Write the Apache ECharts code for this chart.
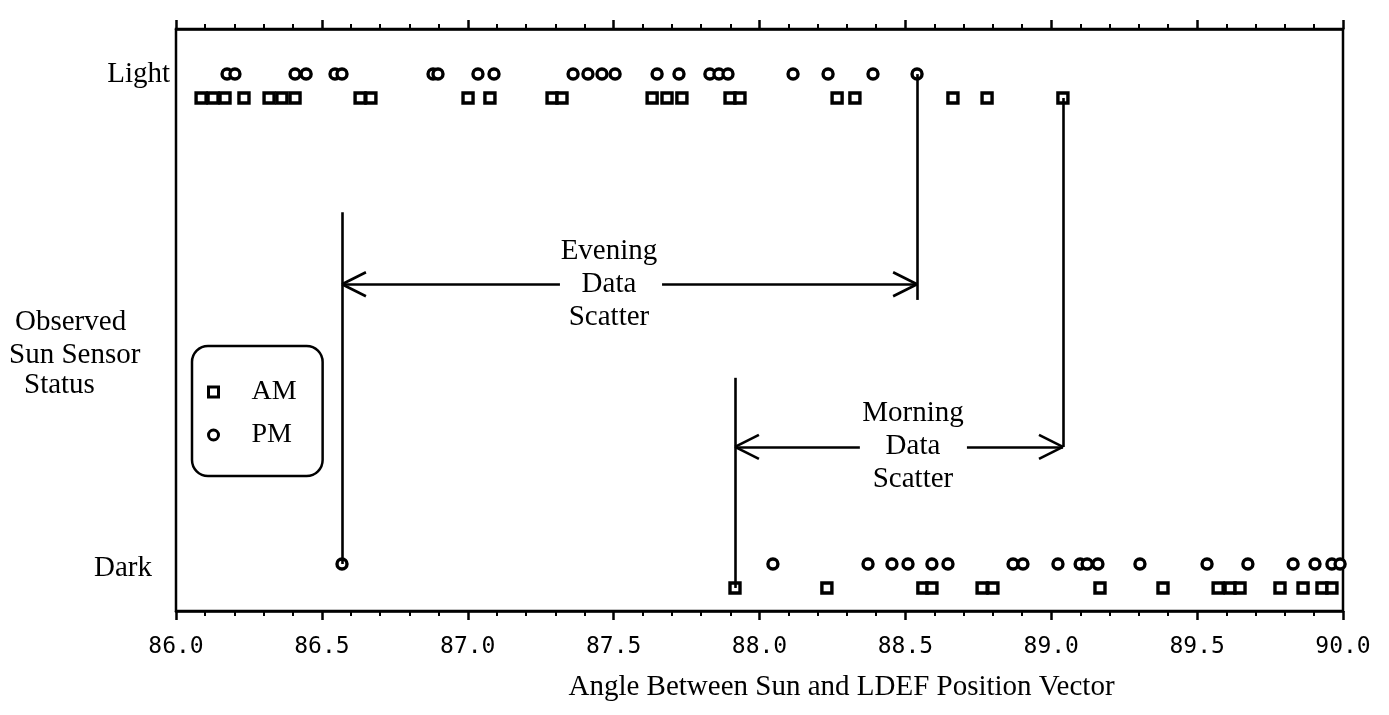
<!DOCTYPE html>
<html>
<head>
<meta charset="utf-8">
<script src="https://cdn.jsdelivr.net/npm/echarts@6/dist/echarts.min.js"></script>
<style>
  html, body { margin: 0; padding: 0; background: #fff; }
  #chart { width: 1389px; height: 715px; }
</style>
</head>
<body>
<div id="chart"></div>
<script>
// ---- data (angle between Sun and LDEF position vector, degrees) ----
const lightAM = [86.086, 86.127, 86.168, 86.233, 86.319, 86.363, 86.408, 86.631, 86.668, 87.001, 87.076, 87.289, 87.323, 87.632, 87.683, 87.734, 87.899, 87.933, 88.266, 88.327, 88.663, 88.780, 89.040];
const lightPM = [86.175, 86.202, 86.408, 86.446, 86.545, 86.569, 86.881, 86.898, 87.035, 87.090, 87.361, 87.412, 87.460, 87.505, 87.649, 87.724, 87.830, 87.861, 87.892, 88.115, 88.235, 88.389, 88.540];
const darkAM = [87.916, 88.231, 88.560, 88.591, 88.763, 88.800, 89.167, 89.383, 89.572, 89.613, 89.647, 89.784, 89.863, 89.928, 89.962];
const darkPM = [86.569, 88.046, 88.372, 88.454, 88.509, 88.591, 88.646, 88.869, 88.903, 89.023, 89.099, 89.123, 89.160, 89.304, 89.534, 89.674, 89.829, 89.904, 89.962, 89.990];
const statusLevels = { Light: 1, Dark: 0 };
const xTickLabels = ['86.0', '86.5', '87.0', '87.5', '88.0', '88.5', '89.0', '89.5', '90.0'];

const SERIF = '"Liberation Serif", "Times New Roman", serif';
const chart = echarts.init(document.getElementById('chart'), null, { renderer: 'canvas' });

// annotation geometry (scatter range brackets)
const eveL = darkPM[0], eveR = lightPM[lightPM.length - 1];
const morL = darkAM[0], morR = lightAM[lightAM.length - 1];
const eveY = 0.571, morY = 0.239;
const ax = 0.082, ay = 0.0245; // arrowhead arm extents in data units
function seg(x1, y1, x2, y2) { return [{ coord: [x1, y1] }, { coord: [x2, y2] }]; }
const annoLines = [
  seg(eveL, 0, eveL, 0.718),
  seg(eveR, 1, eveR, 0.539),
  seg(eveL, eveY, 87.316, eveY),
  seg(87.666, eveY, eveR, eveY),
  seg(eveL, eveY, eveL + ax, eveY + ay),
  seg(eveL, eveY, eveL + ax, eveY - ay),
  seg(eveR, eveY, eveR - ax, eveY + ay),
  seg(eveR, eveY, eveR - ax, eveY - ay),
  seg(morL, -0.049, morL, 0.380),
  seg(morR, 0.951, morR, morY),
  seg(morL, morY, 88.344, morY),
  seg(88.711, morY, morR, morY),
  seg(morL, morY, morL + ax, morY + ay),
  seg(morL, morY, morL + ax, morY - ay),
  seg(morR, morY, morR - ax, morY + ay),
  seg(morR, morY, morR - ax, morY - ay)
];

const markerStyle = { color: '#fff', borderColor: '#000', borderWidth: 3.4, opacity: 1 };

const xCommon = {
  type: 'value', min: 86, max: 90, interval: 0.5,
  axisLine: { show: true, onZero: false, lineStyle: { color: '#000', width: 2.5 } },
  axisTick: { show: true, inside: false, length: 9, lineStyle: { color: '#000', width: 2.5 } },
  minorTick: { show: true, splitNumber: 5, length: 5, lineStyle: { color: '#000', width: 2 } },
  splitLine: { show: false }, minorSplitLine: { show: false }
};

chart.setOption({
  animation: false,
  backgroundColor: '#fff',
  grid: { left: 176, right: 46, top: 29, bottom: 104, show: true, borderColor: '#000', borderWidth: 2.5, backgroundColor: 'transparent' },
  legend: {
    data: [
      { name: 'AM', icon: 'rect', itemStyle: { color: '#fff', borderColor: '#000', borderWidth: 3 } },
      { name: 'PM', icon: 'circle', itemStyle: { color: '#fff', borderColor: '#000', borderWidth: 3 } }
    ],
    orient: 'vertical',
    left: 192, top: 346,
    padding: [31, 26, 26, 15],
    itemGap: 13,
    itemWidth: 10, itemHeight: 10,
    borderColor: '#000', borderWidth: 2.5, borderRadius: 16,
    textStyle: { fontFamily: SERIF, fontSize: 28, lineHeight: 30, color: '#000', padding: [0, 0, 0, 28] },
    selectedMode: false
  },
  xAxis: [
    Object.assign({}, xCommon, {
      position: 'bottom',
      axisLabel: {
        show: true, margin: 25, color: '#000',
        fontFamily: '"DejaVu Sans Mono", monospace', fontSize: 23,
        formatter: function (v) { return xTickLabels[Math.round((v - 86) / 0.5)] || ''; }
      },
      name: 'Angle Between Sun and LDEF Position Vector',
      nameLocation: 'middle', nameGap: 62,
      nameTextStyle: { fontFamily: SERIF, fontSize: 29, color: '#000', padding: [0, 0, 0, 164] }
    }),
    Object.assign({}, xCommon, { position: 'top', axisLabel: { show: false } })
  ],
  yAxis: {
    type: 'value', min: -0.096, max: 1.092,
    axisLine: { show: false }, axisTick: { show: false }, splitLine: { show: false },
    axisLabel: {
      show: true, margin: 6, customValues: [statusLevels.Dark, statusLevels.Light],
      formatter: function (v) { return v === 1 ? '{l|Light}' : (v === 0 ? '{d|Dark}' : ''); },
      rich: {
        l: { fontFamily: SERIF, fontSize: 29, color: '#000' },
        d: { fontFamily: SERIF, fontSize: 29, color: '#000', padding: [8, 18, 0, 0] }
      }
    }
  },
  graphic: [
    { type: 'text', left: 15, top: 308, style: { text: 'Observed', font: '29px ' + SERIF, fill: '#000' } },
    { type: 'text', left: 9, top: 341, style: { text: 'Sun Sensor', font: '29px ' + SERIF, fill: '#000' } },
    { type: 'text', left: 24, top: 371, style: { text: 'Status', font: '29px ' + SERIF, fill: '#000' } }
  ],
  series: [
    {
      name: 'annotations', type: 'scatter', data: [], z: 1, silent: true,
      markLine: {
        silent: true, symbol: ['none', 'none'], animation: false,
        lineStyle: { color: '#000', width: 2.6, type: 'solid' },
        label: { show: false },
        data: annoLines
      },
      markPoint: {
        silent: true, symbol: 'circle', symbolSize: 1, animation: false,
        itemStyle: { color: 'rgba(0,0,0,0)' },
        label: { show: true, position: 'inside', fontFamily: SERIF, fontSize: 29, lineHeight: 33, color: '#000' },
        data: [
          { coord: [87.484, eveY], label: { formatter: 'Evening\nData\nScatter' } },
          { coord: [88.526, morY], label: { formatter: 'Morning\nData\nScatter' } }
        ]
      }
    },
    {
      name: 'AM', type: 'scatter', z: 3,
      symbol: 'rect', symbolSize: 10, symbolOffset: [0, 24],
      itemStyle: markerStyle,
      data: lightAM.map(function (x) { return [x, statusLevels.Light]; })
        .concat(darkAM.map(function (x) { return [x, statusLevels.Dark]; }))
    },
    {
      name: 'PM', type: 'scatter', z: 3,
      symbol: 'circle', symbolSize: 10,
      itemStyle: markerStyle,
      data: lightPM.map(function (x) { return [x, statusLevels.Light]; })
        .concat(darkPM.map(function (x) { return [x, statusLevels.Dark]; }))
    }
  ]
});
</script>
</body>
</html>
